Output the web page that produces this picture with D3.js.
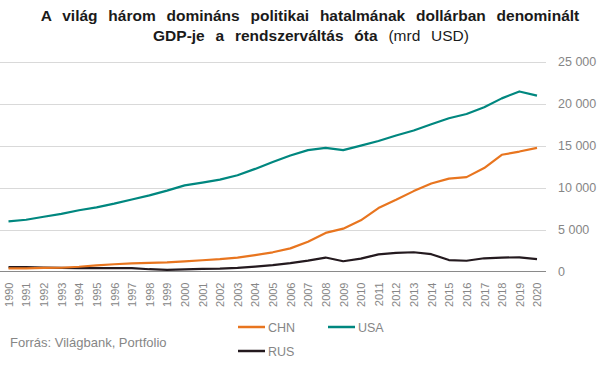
<!DOCTYPE html>
<html>
<head>
<meta charset="utf-8">
<script src="https://cdn.jsdelivr.net/npm/d3@7"></script>
<style>
  body { margin: 0; background: #fff; font-family: 'Liberation Sans', Arial, sans-serif; }
  .title { font-weight: bold; font-size: 15.5px; fill: #1a1a1a; word-spacing: 6.5px; }
  .tick text { fill: #868686; }
</style>
</head>
<body>
<div class="chart"></div>
<script>
const svgWidth = 606;
const svgHeight = 379;

const years = d3.range(1990, 2021);
const yTicks = [0, 5000, 10000, 15000, 20000, 25000];

const usa = [5963, 6158, 6520, 6859, 7287, 7640, 8073, 8578, 9063, 9631, 10252, 10582, 10936, 11458, 12214,
  13037, 13815, 14452, 14713, 14449, 14992, 15543, 16197, 16785, 17527, 18238, 18745, 19543, 20612, 21433, 20937];
const chn = [361, 383, 427, 445, 564, 734, 864, 962, 1029, 1094, 1211, 1339, 1471, 1660, 1955,
  2286, 2752, 3550, 4594, 5102, 6087, 7552, 8532, 9570, 10476, 11062, 11233, 12310, 13895, 14280, 14723];
const rus = [517, 518, 460, 435, 395, 395, 392, 405, 271, 196, 260, 307, 345, 430, 591,
  764, 990, 1300, 1661, 1223, 1525, 2046, 2208, 2292, 2059, 1363, 1277, 1574, 1657, 1687, 1483];

const series = [
  { name: 'CHN', values: chn, color: '#e8751f' },
  { name: 'USA', values: usa, color: '#00877f' },
  { name: 'RUS', values: rus, color: '#241a1f' }
];

const svg = d3.select('.chart')
  .append('svg')
  .attr('width', svgWidth)
  .attr('height', svgHeight);

// title
const title = svg.append('text')
  .attr('class', 'title')
  .attr('text-anchor', 'middle');
title.append('tspan').attr('x', 310).attr('y', 21)
  .text('A világ három domináns politikai hatalmának dollárban denominált');
const t2 = title.append('tspan').attr('x', 311).attr('y', 41);
t2.append('tspan').text('GDP-je a rendszerváltás óta ');
t2.append('tspan').attr('font-weight', 'normal').text('(mrd USD)');

const x = d3.scalePoint()
  .domain(years)
  .range([8.5, 537]);

const y = d3.scaleLinear()
  .domain([0, 25000])
  .range([271.5, 61.5]);

// gridlines
svg.append('g')
  .selectAll('line')
  .data(yTicks.filter(d => d > 0))
  .join('line')
  .attr('x1', 0)
  .attr('x2', 546)
  .attr('y1', d => Math.round(y(d)) + 0.5)
  .attr('y2', d => Math.round(y(d)) + 0.5)
  .attr('stroke', '#d9d9d9')
  .attr('stroke-width', 1);

// y axis labels on the right
const yAxis = d3.axisRight(y)
  .tickValues(yTicks)
  .tickSize(0)
  .tickPadding(0)
  .tickFormat(d => d3.format(',')(d).replace(',', ' '));
svg.append('g')
  .attr('transform', 'translate(558, 0)')
  .call(yAxis)
  .call(g => g.select('.domain').remove())
  .selectAll('text')
  .attr('font-family', "'Liberation Sans', Arial, sans-serif")
  .attr('font-size', 12.5);

// x axis
const xAxis = d3.axisBottom(x)
  .tickSize(0)
  .tickPadding(0);
const xg = svg.append('g')
  .attr('transform', 'translate(0, 271.5)')
  .call(xAxis);
xg.select('.domain').remove();
xg.append('line')
  .attr('x1', 0).attr('x2', 546)
  .attr('stroke', '#8a8a8a');
xg.selectAll('.tick text')
  .attr('font-family', "'Liberation Sans', Arial, sans-serif")
  .attr('font-size', 11)
  .attr('transform', 'rotate(-90)')
  .attr('text-anchor', 'end')
  .attr('x', -11)
  .attr('y', 0)
  .attr('dy', '0.35em');

// lines
const line = d3.line()
  .x((d, i) => x(years[i]))
  .y(d => y(d));

svg.append('g')
  .selectAll('path')
  .data(series.slice().reverse())
  .join('path')
  .attr('d', d => line(d.values))
  .attr('fill', 'none')
  .attr('stroke', d => d.color)
  .attr('stroke-width', 2.2)
  .attr('stroke-linejoin', 'round');

// legend
const legendPos = [[238, 327], [328, 327], [238, 351]];
const legend = svg.append('g')
  .selectAll('g')
  .data(series)
  .join('g')
  .attr('transform', (d, i) => `translate(${legendPos[i][0]}, ${legendPos[i][1]})`);
legend.append('line')
  .attr('x1', 0).attr('x2', 27)
  .attr('stroke', d => d.color)
  .attr('stroke-width', 2.5);
legend.append('text')
  .attr('x', 30)
  .attr('dy', '0.36em')
  .attr('font-size', 12.5)
  .attr('fill', '#868686')
  .text(d => d.name);

// source
svg.append('text')
  .attr('x', 10)
  .attr('y', 347)
  .attr('font-size', 13)
  .attr('fill', '#868686')
  .text('Forrás: Világbank, Portfolio');
</script>
</body>
</html>
